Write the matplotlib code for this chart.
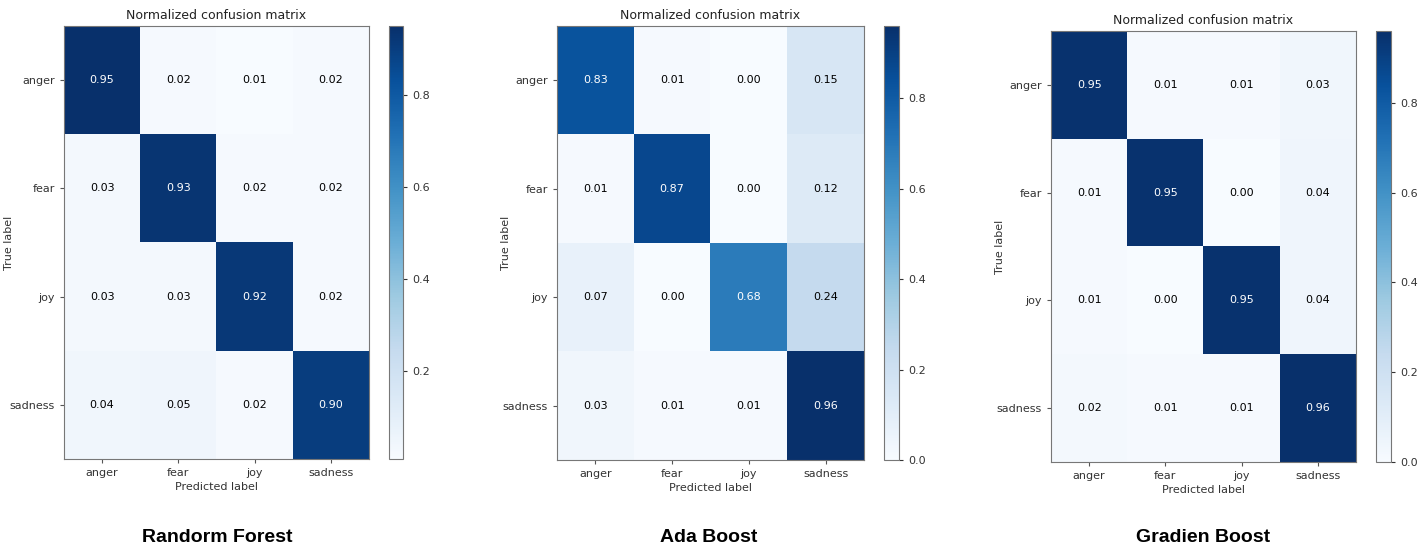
import numpy as np
import matplotlib
matplotlib.use('Agg')
import matplotlib.pyplot as plt

classes = ['anger', 'fear', 'joy', 'sadness']
rf_cm = [[0.95, 0.02, 0.01, 0.02],
         [0.03, 0.93, 0.02, 0.02],
         [0.03, 0.03, 0.92, 0.02],
         [0.04, 0.05, 0.02, 0.90]]
ada_cm = [[0.83, 0.01, 0.00, 0.15],
          [0.01, 0.87, 0.00, 0.12],
          [0.07, 0.00, 0.68, 0.24],
          [0.03, 0.01, 0.01, 0.96]]
gb_cm = [[0.95, 0.01, 0.01, 0.03],
         [0.01, 0.95, 0.00, 0.04],
         [0.01, 0.00, 0.95, 0.04],
         [0.02, 0.01, 0.01, 0.96]]
captions = ['Randorm Forest', 'Ada Boost', 'Gradien Boost']

W, H = 1426, 552
fig = plt.figure(figsize=(W / 100, H / 100), dpi=100, facecolor='white')

# pixel boxes: heatmap (left, top, right, bottom), colorbar left/right, caption x, ylabel x
boxes = [(64, 26, 369, 459, 389, 403, 217, 14),
         (557, 26, 864, 460, 884, 899, 709, 511),
         (1051, 31, 1356, 462, 1376, 1391, 1203, 1005)]


def px(l, t, r, b):
    return [l / W, 1 - b / H, (r - l) / W, (b - t) / H]


for cm, cap, (l, t, r, b, cl, cr, capx, ylx) in zip([rf_cm, ada_cm, gb_cm], captions, boxes):
    cm = np.array(cm)
    ax = fig.add_axes(px(l, t, r, b))
    cax = fig.add_axes(px(cl, t, cr, b))
    im = ax.imshow(cm, interpolation='nearest', cmap=plt.cm.Blues, aspect='auto')
    cbar = fig.colorbar(im, cax=cax)
    cbar.ax.tick_params(labelsize=8, colors='#333333', length=3)
    cbar.outline.set_edgecolor('#777777')
    ax.set_title('Normalized confusion matrix', fontsize=9, color='#222222', pad=5)
    ticks = np.arange(len(classes))
    ax.set_xticks(ticks)
    ax.set_xticklabels(classes, fontsize=8, color='#333333')
    ax.set_yticks(ticks)
    ax.set_yticklabels(classes, fontsize=8, color='#333333')
    ax.tick_params(length=3, colors='#555555', labelcolor='#333333')
    thresh = cm.max() / 2.
    for i in range(cm.shape[0]):
        for j in range(cm.shape[1]):
            ax.text(j, i, format(cm[i, j], '.2f'), ha='center', va='center', fontsize=8,
                    color='white' if cm[i, j] > thresh else 'black')
    ax.set_ylabel('True label', fontsize=8, color='#333333')
    ax.yaxis.set_label_coords(-(l - ylx) / (r - l), 0.5)
    ax.set_xlabel('Predicted label', fontsize=8, color='#333333', labelpad=3)
    for s in ax.spines.values():
        s.set_edgecolor('#777777')
    fig.text(capx / W, 1 - 537 / H, cap, ha='center', va='center', fontsize=14,
             fontweight='bold', family=['Liberation Sans', 'DejaVu Sans'])

fig.savefig('out.png', dpi=100)
